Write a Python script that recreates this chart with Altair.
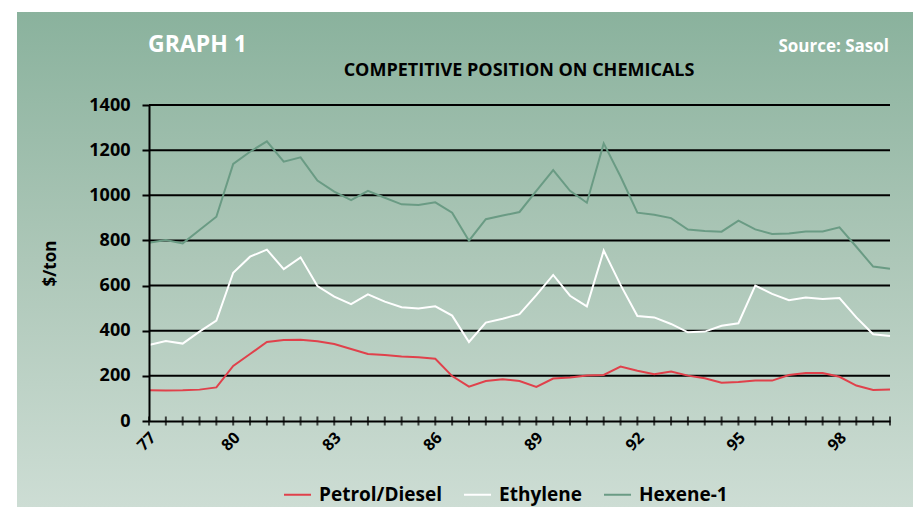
import altair as alt
import pandas as pd

# ---- data ----
tick_labels = ["77", "80", "83", "86", "89", "92", "95", "98"]
tick_label_pos = [0, 5, 11, 17, 23, 29, 35, 41]
series = ["Petrol/Diesel", "Ethylene", "Hexene-1"]
petrol = [136, 135, 136, 139, 149, 244, 297, 350, 359,
          360, 353, 341, 319, 297, 292, 286, 282, 276,
          199, 152, 177, 185, 177, 151, 188, 193,
          202, 204, 241, 223, 207, 219, 201, 189, 170,
          173, 179, 179, 204, 213, 213, 196, 157, 137, 140]
ethylene = [337, 354, 343, 396, 445, 657, 728, 759, 673,
            725, 598, 551, 518, 561, 529, 504, 498, 508,
            467, 350, 436, 453, 473, 558, 647, 555,
            508, 755, 603, 465, 459, 430, 393, 396, 422,
            433, 600, 563, 535, 547, 541, 545, 459, 384, 377]
hexene = [790, 802, 787, 846, 905, 1139, 1193, 1239, 1149,
          1168, 1065, 1016, 979, 1020, 989, 960, 957, 969,
          923, 799, 894, 910, 926, 1020, 1112, 1020,
          967, 1230, 1083, 923, 914, 899, 848, 842, 839,
          888, 849, 829, 831, 840, 840, 858, 772, 684, 675]
y_grid = [200, 400, 600, 800, 1000, 1200, 1400]
y_ticks = [0, 200, 400, 600, 800, 1000, 1200, 1400]
colors = ["#E0414B", "#FFFFFF", "#6A9B84"]

FONT = "Open Sans"
W, H = 741, 316
n = len(petrol)
idx = list(range(n))

df = pd.DataFrame({
    "i": idx * 3,
    "v": petrol + ethylene + hexene,
    "s": [s for s in series for _ in range(n)],
})
df_ticks = pd.DataFrame({"i": idx, "z": [0] * n})
df_grid = pd.DataFrame({"g": y_grid})
one = pd.DataFrame({"a": [0]})

label_expr = "[" + ",".join("'%s'" % t for t in tick_labels) + "][indexof([" + \
    ",".join(str(p) for p in tick_label_pos) + "], datum.value)]"

xscale = alt.Scale(domain=[0, n - 1], nice=False, zero=False)
yscale = alt.Scale(domain=[0, 1400], nice=False)

bg = alt.Chart(one).mark_rect(
    color=alt.LinearGradient(
        gradient="linear", x1=0, y1=0, x2=0, y2=1,
        stops=[alt.GradientStop(color="#8AB29D", offset=0),
               alt.GradientStop(color="#ADC7B8", offset=0.5),
               alt.GradientStop(color="#CDDDD4", offset=1)]),
).encode(x=alt.value(-132), x2=alt.value(764), y=alt.value(-93), y2=alt.value(402))

grid = alt.Chart(df_grid).mark_rule(color="black", strokeWidth=2).encode(
    y=alt.Y("g:Q", scale=yscale), x=alt.value(0), x2=alt.value(W))

ticks = alt.Chart(df_ticks).mark_tick(orient="vertical", size=9, thickness=2, color="black").encode(
    x=alt.X("i:Q", scale=xscale), y=alt.Y("z:Q", scale=yscale))

lines = alt.Chart(df).mark_line(strokeWidth=2).encode(
    x=alt.X("i:Q", scale=xscale, axis=alt.Axis(
        values=tick_label_pos, labelExpr=label_expr, title=None, grid=False, ticks=False,
        domainColor="black", domainWidth=2, labelAngle=-45, labelAlign="right",
        labelBaseline="top", labelFont=FONT, labelFontSize=16, labelFontWeight="bold",
        labelColor="black", labelPadding=8, labelOffset=-2, zindex=1)),
    y=alt.Y("v:Q", scale=yscale, axis=alt.Axis(
        values=y_ticks, format="d", grid=False, domainColor="black", domainWidth=2,
        tickColor="black", tickWidth=2, tickSize=7, labelPadding=12,
        labelFont=FONT, labelFontSize=18, labelFontWeight="bold", labelColor="black",
        title="$/ton", titleX=-99, titleY=158, titleAngle=270, titleAlign="center",
        titleBaseline="middle", titleFont=FONT, titleFontSize=17, titleFontWeight="bold",
        titleColor="black", zindex=1)),
    color=alt.Color("s:N", sort=series, scale=alt.Scale(domain=series, range=colors),
                    legend=alt.Legend(orient="none", legendX=134, legendY=375,
                                      direction="horizontal", title=None, symbolType="stroke",
                                      symbolSize=729, symbolStrokeWidth=2, labelFont=FONT,
                                      labelFontSize=19, labelFontWeight="bold",
                                      labelColor="black", labelOffset=7, columnPadding=18,
                                      padding=0)),
)

t1 = alt.Chart(pd.DataFrame({"t": ["GRAPH 1"]})).mark_text(
    align="left", baseline="alphabetic", font=FONT, fontSize=23, fontWeight="bold", color="white"
).encode(x=alt.value(-1), y=alt.value(-53), text="t:N")
t2 = alt.Chart(pd.DataFrame({"t": ["Source: Sasol"]})).mark_text(
    align="right", baseline="alphabetic", font=FONT, fontSize=17, fontWeight="bold", color="white"
).encode(x=alt.value(740), y=alt.value(-53), text="t:N")
t3 = alt.Chart(pd.DataFrame({"t": ["COMPETITIVE POSITION ON CHEMICALS"]})).mark_text(
    align="center", baseline="alphabetic", font=FONT, fontSize=18, fontWeight="bold", color="black"
).encode(x=alt.value(370), y=alt.value(-29), text="t:N")

chart = alt.layer(bg, grid, ticks, lines, t1, t2, t3).properties(
    width=W, height=H, padding={"left": 9, "top": 4, "right": 0, "bottom": 0}
).configure(background="white").configure_view(stroke=None)

chart.save("out.html", embed_options={"renderer": "svg", "actions": False})
